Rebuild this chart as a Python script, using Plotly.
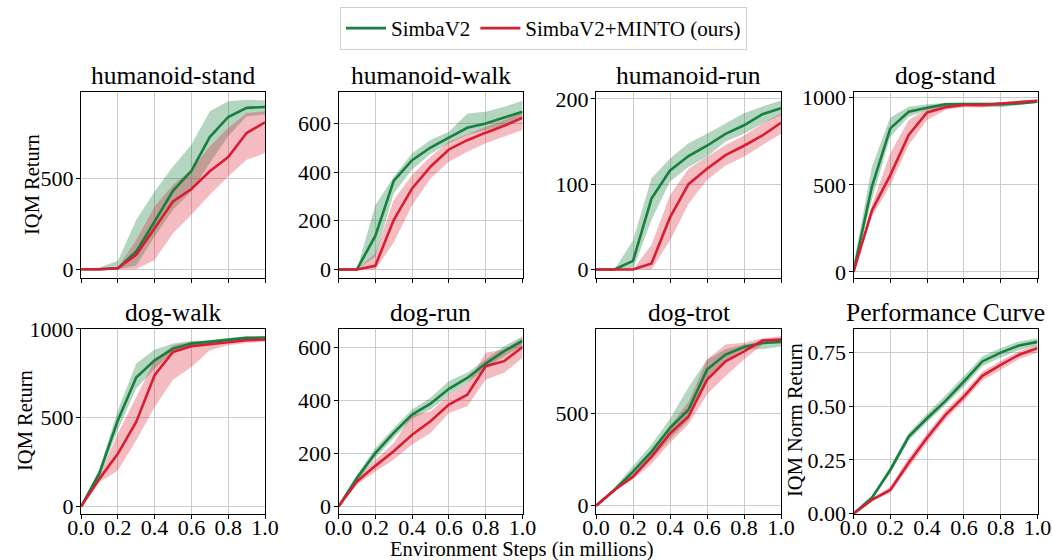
import plotly.graph_objects as go

# Environment steps (millions), shared by every panel
steps = [0.0, 0.1, 0.2, 0.3, 0.4, 0.5, 0.6, 0.7, 0.8, 0.9, 1.0]

# ---- humanoid-stand ----
hs_simba = [0, 0, 5, 97, 262, 430, 540, 725, 835, 885, 890]
hs_simba_lo = [0, 0, 0, 20, 180, 326, 427, 582, 729, 839, 848]
hs_simba_hi = [0, 10, 46, 270, 427, 564, 683, 866, 921, 930, 927]
hs_minto = [0, 0, 5, 79, 225, 372, 440, 537, 615, 747, 806]
hs_minto_lo = [0, 0, 0, 0, 51, 198, 299, 408, 509, 600, 637]
hs_minto_hi = [0, 0, 10, 161, 344, 463, 546, 674, 775, 857, 866]

# ---- humanoid-walk ----
hw_simba = [0, 0, 138, 364, 449, 501, 542, 582, 600, 625, 648]
hw_simba_lo = [0, 0, 52, 312, 411, 474, 518, 552, 573, 593, 621]
hw_simba_hi = [0, 0, 264, 381, 477, 532, 566, 641, 648, 668, 693]
hw_minto = [0, 0, 15, 203, 333, 422, 493, 531, 562, 590, 623]
hw_minto_lo = [0, 0, 0, 110, 264, 374, 442, 484, 518, 545, 573]
hw_minto_hi = [0, 0, 66, 285, 388, 463, 525, 556, 586, 614, 648]

# ---- humanoid-run ----
hr_simba = [0, 0, 10, 83, 116, 133, 145, 159, 169, 182, 189]
hr_simba_lo = [0, 0, 0, 58, 103, 120, 132, 150, 159, 171, 181]
hr_simba_hi = [0, 0, 34, 107, 130, 148, 159, 171, 183, 191, 198]
hr_minto = [0, 0, 0, 7, 61, 100, 118, 134, 145, 157, 172]
hr_minto_lo = [0, 0, 0, 0, 34, 77, 105, 122, 132, 146, 159]
hr_minto_hi = [0, 0, 0, 29, 87, 118, 132, 146, 157, 171, 183]

# ---- dog-stand ----
ds_simba = [0, 490, 824, 920, 943, 962, 964, 964, 962, 967, 977]
ds_simba_lo = [0, 413, 776, 891, 929, 948, 952, 948, 945, 958, 971]
ds_simba_hi = [40, 604, 887, 948, 962, 971, 971, 973, 973, 977, 987]
ds_minto = [0, 352, 556, 786, 916, 945, 958, 958, 967, 973, 983]
ds_minto_lo = [0, 317, 499, 728, 872, 929, 945, 943, 958, 964, 973]
ds_minto_hi = [0, 384, 681, 872, 939, 958, 967, 967, 973, 981, 990]

# ---- dog-walk ----
dw_simba = [0, 188, 485, 726, 823, 889, 917, 927, 940, 949, 951]
dw_simba_lo = [0, 165, 429, 664, 776, 870, 902, 917, 932, 940, 940]
dw_simba_hi = [0, 212, 541, 805, 883, 917, 932, 936, 949, 959, 959]
dw_minto = [0, 156, 297, 476, 739, 870, 902, 914, 927, 936, 940]
dw_minto_lo = [0, 137, 203, 372, 560, 714, 786, 880, 908, 921, 927]
dw_minto_hi = [0, 175, 410, 617, 823, 908, 927, 932, 940, 949, 951]

# ---- dog-run ----
dr_simba = [0, 107, 201, 277, 346, 387, 443, 484, 538, 585, 623]
dr_simba_lo = [0, 94, 182, 258, 330, 365, 421, 465, 522, 566, 604]
dr_simba_hi = [0, 119, 220, 296, 365, 409, 472, 503, 553, 604, 641]
dr_minto = [0, 94, 153, 208, 270, 321, 384, 421, 528, 547, 600]
dr_minto_lo = [0, 82, 132, 176, 233, 277, 352, 377, 478, 503, 560]
dr_minto_hi = [0, 107, 176, 239, 346, 358, 421, 465, 579, 591, 635]

# ---- dog-trot ----
dt_simba = [0, 85, 184, 292, 420, 518, 735, 816, 857, 879, 884]
dt_simba_lo = [0, 75, 165, 250, 360, 460, 690, 790, 845, 845, 860]
dt_simba_hi = [0, 100, 215, 330, 470, 640, 790, 845, 870, 885, 895]
dt_minto = [0, 85, 157, 265, 390, 482, 680, 780, 834, 892, 897]
dt_minto_lo = [0, 80, 145, 225, 340, 440, 600, 700, 790, 870, 885]
dt_minto_hi = [0, 90, 170, 285, 430, 560, 790, 870, 880, 905, 915]

# ---- aggregate performance curve ----
pc_simba = [0, 0.074, 0.203, 0.358, 0.443, 0.524, 0.614, 0.707, 0.748, 0.781, 0.798]
pc_simba_lo = [0, 0.068, 0.19, 0.34, 0.425, 0.505, 0.59, 0.685, 0.725, 0.76, 0.78]
pc_simba_hi = [0.005, 0.08, 0.22, 0.375, 0.465, 0.55, 0.64, 0.73, 0.77, 0.80, 0.815]
pc_minto = [0, 0.064, 0.110, 0.237, 0.353, 0.459, 0.544, 0.640, 0.691, 0.738, 0.769]
pc_minto_lo = [0, 0.058, 0.098, 0.215, 0.33, 0.437, 0.522, 0.618, 0.67, 0.718, 0.748]
pc_minto_hi = [0.005, 0.07, 0.125, 0.26, 0.375, 0.48, 0.565, 0.66, 0.71, 0.755, 0.785]

x_ticks = [0.0, 0.2, 0.4, 0.6, 0.8, 1.0]
x_tick_text = ["0.0", "0.2", "0.4", "0.6", "0.8", "1.0"]

panels = [
    dict(title="humanoid-stand", simba=(hs_simba, hs_simba_lo, hs_simba_hi),
         minto=(hs_minto, hs_minto_lo, hs_minto_hi), yrange=[-48, 972],
         yticks=[0, 500], ytext=["0", "500"]),
    dict(title="humanoid-walk", simba=(hw_simba, hw_simba_lo, hw_simba_hi),
         minto=(hw_minto, hw_minto_lo, hw_minto_hi), yrange=[-35, 729],
         yticks=[0, 200, 400, 600], ytext=["0", "200", "400", "600"]),
    dict(title="humanoid-run", simba=(hr_simba, hr_simba_lo, hr_simba_hi),
         minto=(hr_minto, hr_minto_lo, hr_minto_hi), yrange=[-10, 208],
         yticks=[0, 100, 200], ytext=["0", "100", "200"]),
    dict(title="dog-stand", simba=(ds_simba, ds_simba_lo, ds_simba_hi),
         minto=(ds_minto, ds_minto_lo, ds_minto_hi), yrange=[-35, 1033],
         yticks=[0, 500, 1000], ytext=["0", "500", "1000"]),
    dict(title="dog-walk", simba=(dw_simba, dw_simba_lo, dw_simba_hi),
         minto=(dw_minto, dw_minto_lo, dw_minto_hi), yrange=[-40, 1002],
         yticks=[0, 500, 1000], ytext=["0", "500", "1000"]),
    dict(title="dog-run", simba=(dr_simba, dr_simba_lo, dr_simba_hi),
         minto=(dr_minto, dr_minto_lo, dr_minto_hi), yrange=[-27, 670],
         yticks=[0, 200, 400, 600], ytext=["0", "200", "400", "600"]),
    dict(title="dog-trot", simba=(dt_simba, dt_simba_lo, dt_simba_hi),
         minto=(dt_minto, dt_minto_lo, dt_minto_hi), yrange=[-43, 957],
         yticks=[0, 500], ytext=["0", "500"]),
    dict(title="Performance Curve", simba=(pc_simba, pc_simba_lo, pc_simba_hi),
         minto=(pc_minto, pc_minto_lo, pc_minto_hi), yrange=[0, 0.86],
         yticks=[0, 0.25, 0.5, 0.75], ytext=["0.00", "0.25", "0.50", "0.75"]),
]

W, H = 1053, 560
FONT = "Liberation Serif, Times New Roman, serif"
GREEN = "#16803f"
RED = "#d91d32"
GREEN_FILL = "rgba(22,128,63,0.32)"
RED_FILL = "rgba(217,29,50,0.30)"

# pixel boxes of the 2x4 grid
col_px = [(81, 265), (338.5, 522.5), (596, 781), (853.5, 1037.5)]
row_px = [(92, 278), (328.5, 513.7)]

fig = go.Figure()
layout_axes = {}
annotations = []

for i, p in enumerate(panels):
    r, c = divmod(i, 4)
    n = i + 1
    xa = "x" if n == 1 else f"x{n}"
    ya = "y" if n == 1 else f"y{n}"
    for key, fill in (("simba", GREEN_FILL), ("minto", RED_FILL)):
        mean, lo, hi = p[key]
        fig.add_trace(go.Scatter(
            x=steps + steps[::-1], y=hi + lo[::-1], fill="toself",
            fillcolor=fill, line=dict(width=0), mode="lines",
            hoverinfo="skip", showlegend=False, xaxis=xa, yaxis=ya))
    for key, color, name in (("simba", GREEN, "SimbaV2"),
                             ("minto", RED, "SimbaV2+MINTO (ours)")):
        mean = p[key][0]
        fig.add_trace(go.Scatter(
            x=steps, y=mean, mode="lines", name=name,
            line=dict(color=color, width=2.6),
            showlegend=(i == 0), xaxis=xa, yaxis=ya))

    x0, x1 = col_px[c]
    top, bot = row_px[r]
    xdom = [x0 / W, x1 / W]
    ydom = [(H - bot) / H, (H - top) / H]
    common = dict(showline=True, linecolor="black", linewidth=1, mirror=True,
                  showgrid=True, gridcolor="#cbcbcb", gridwidth=1,
                  zeroline=False, ticks="outside", ticklen=4, tickcolor="black",
                  automargin=False,
                  tickfont=dict(family=FONT, size=22, color="black"))
    layout_axes["xaxis" if n == 1 else f"xaxis{n}"] = dict(
        domain=xdom, anchor=ya, range=[0, 1], tickvals=x_ticks,
        ticktext=x_tick_text, showticklabels=(r == 1),
        ticklabelstandoff=-10, **common)
    layout_axes["yaxis" if n == 1 else f"yaxis{n}"] = dict(
        domain=ydom, anchor=xa, range=p["yrange"], tickvals=p["yticks"],
        ticktext=p["ytext"], ticklabelstandoff=-2, **common)

    annotations.append(dict(
        text=p["title"], x=(x0 + x1) / 2 / W, y=(H - top) / H, xref="paper",
        yref="paper", xanchor="center", yanchor="bottom", showarrow=False,
        font=dict(family=FONT, size=25.5, color="black")))

# axis titles
annotations += [
    dict(text="IQM Return", x=32 / W, y=(H - 185) / H, textangle=-90),
    dict(text="IQM Return", x=25 / W, y=(H - 421) / H, textangle=-90),
    dict(text="IQM Norm Return", x=795 / W, y=(H - 420) / H, textangle=-90),
    dict(text="Environment Steps (in millions)", x=522 / W, y=(H - 549.5) / H),
]
for a in annotations[-4:]:
    a.update(xref="paper", yref="paper", xanchor="center", yanchor="middle",
             showarrow=False, font=dict(family=FONT, size=20.5, color="black"))

fig.update_layout(
    template="none",
    width=W, height=H, margin=dict(l=0, r=0, t=0, b=0, autoexpand=False),
    paper_bgcolor="white", plot_bgcolor="white",
    font=dict(family=FONT, color="black"),
    showlegend=True,
    legend=dict(orientation="h", x=543.5 / W, xanchor="center",
                y=1 - 7 / H, yanchor="top", bgcolor="white",
                bordercolor="#d0d0d0", borderwidth=1, itemwidth=40,
                font=dict(family=FONT, size=21, color="black")),
    annotations=annotations,
    **layout_axes,
)

fig.write_html("out.html", config={"responsive": False})
